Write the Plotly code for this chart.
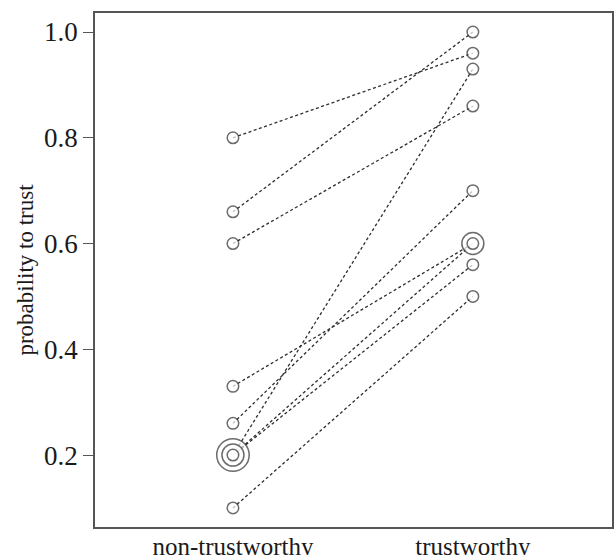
import plotly.graph_objects as go
from collections import Counter

categories = ["non-trustworthy", "trustworthy"]
non_trustworthy = [0.80, 0.66, 0.60, 0.33, 0.26, 0.20, 0.20, 0.20, 0.10]
trustworthy = [0.96, 1.00, 0.86, 0.60, 0.70, 0.93, 0.60, 0.56, 0.50]
y_ticks = [0.2, 0.4, 0.6, 0.8, 1.0]
y_title = "probability to trust"

FONT = "Liberation Serif"
INK = "#2e2e2e"
TXT = "#1a1a1a"

fig = go.Figure()

# dashed connecting lines, one per participant
lx, ly = [], []
for a, b in zip(non_trustworthy, trustworthy):
    lx += [1, 2, None]
    ly += [a, b, None]
fig.add_trace(go.Scatter(x=lx, y=ly, mode="lines",
                         line=dict(color=INK, width=1.3, dash="3px,2.5px"),
                         hoverinfo="skip", showlegend=False))

# open circles; repeated values drawn as concentric rings
for xi, vals in zip([1, 2], [non_trustworthy, trustworthy]):
    counts = Counter(vals)
    xs, ys, ss = [], [], []
    for v, k in counts.items():
        for j in range(k, 0, -1):
            xs.append(xi)
            ys.append(v)
            ss.append(11.5 + 10.5 * (j - 1))
    fig.add_trace(go.Scatter(x=xs, y=ys, mode="markers",
                             marker=dict(symbol="circle", size=ss, color="white",
                                         line=dict(color=INK, width=1.5)),
                             showlegend=False))

fig.update_layout(
    width=614, height=555,
    margin=dict(l=95, r=2, t=13, b=28),
    plot_bgcolor="white", paper_bgcolor="white",
    font=dict(family=FONT, color=TXT, size=20),
    xaxis=dict(range=[0.425, 2.58], tickvals=[1, 2], ticktext=categories,
               showgrid=False, zeroline=False, ticks="", showline=True,
               linecolor="#555555", linewidth=1.6, mirror=True, automargin=False,
               ticklabelstandoff=-4,
               tickfont=dict(family=FONT, size=25, color=TXT)),
    yaxis=dict(range=[0.064, 1.036], tickvals=y_ticks,
               ticktext=[f"{v:.1f}" for v in y_ticks],
               showgrid=False, zeroline=False, ticks="outside", ticklen=10,
               tickcolor="#555555", tickwidth=1.2, showline=True,
               linecolor="#555555", linewidth=1.6, mirror=True, automargin=False,
               tickfont=dict(family=FONT, size=27, color=TXT),
               title=dict(text=y_title, font=dict(family=FONT, size=23, color=TXT),
                          standoff=4)),
)

fig.write_html("out.html", config={"displayModeBar": False},
               post_script="document.body.style.margin='0px';document.body.style.overflow='hidden';")
